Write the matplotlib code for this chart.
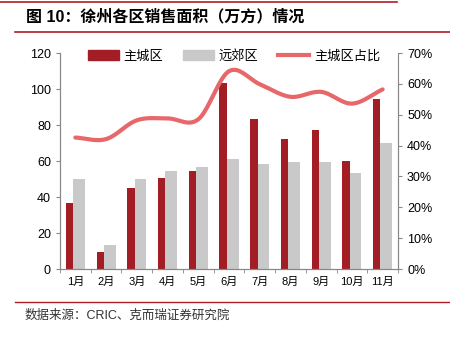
import numpy as np
import matplotlib
matplotlib.use('Agg')
import matplotlib.pyplot as plt
from matplotlib.lines import Line2D
from matplotlib.patches import Patch
from matplotlib.ticker import PercentFormatter

plt.rcParams['font.family'] = ['Liberation Sans', 'Noto Sans CJK SC', 'DejaVu Sans']

# 数据
meses = ['1月', '2月', '3月', '4月', '5月', '6月', '7月', '8月', '9月', '10月', '11月']
zhucheng = [36.6, 9.2, 44.9, 50.4, 54.3, 103.4, 83.1, 72.4, 77.5, 59.8, 94.7]
yuanjiao = [50.2, 13.3, 50.2, 54.3, 56.5, 61.1, 58.2, 59.3, 59.3, 53.5, 69.8]
zhanbi = [42.6, 42.1, 48.2, 48.8, 48.5, 64.1, 59.9, 55.8, 57.4, 53.6, 58.2]

ROJO = '#A31D24'
GRIS = '#C9C9C9'
ROSA = '#E8676A'


def suavizar(x, y, n=20):
    """Curva Catmull-Rom que pasa por los puntos (solo para dibujar la linea)"""
    x = np.asarray(x, float)
    y = np.asarray(y, float)
    px = np.concatenate([[2 * x[0] - x[1]], x, [2 * x[-1] - x[-2]]])
    py = np.concatenate([[2 * y[0] - y[1]], y, [2 * y[-1] - y[-2]]])
    xs, ys = [], []
    for i in range(1, len(px) - 2):
        t = np.linspace(0, 1, n, endpoint=False)
        for p, out in ((px, xs), (py, ys)):
            p0, p1, p2, p3 = p[i - 1], p[i], p[i + 1], p[i + 2]
            out.extend(0.5 * (2 * p1 + (-p0 + p2) * t + (2 * p0 - 5 * p1 + 4 * p2 - p3) * t ** 2
                              + (-p0 + 3 * p1 - 3 * p2 + p3) * t ** 3))
    xs.append(x[-1])
    ys.append(y[-1])
    return np.array(xs), np.array(ys)


fig = plt.figure(figsize=(4.5, 3.45), dpi=100)
ax = fig.add_axes([60 / 450, 1 - 269 / 345, 338 / 450, 216 / 345])
ax2 = ax.twinx()

x = np.arange(len(meses))
ax.bar(x - 0.19, zhucheng, width=0.24, color=ROJO, zorder=2)
ax.bar(x + 0.12, yuanjiao, width=0.38, color=GRIS, zorder=2)

xs, ys = suavizar(x, zhanbi)
ax2.plot(xs, ys, color=ROSA, lw=3, solid_capstyle='round')

ax.set_xlim(-0.5, len(meses) - 0.5)
ax.set_ylim(0, 120)
ax.set_yticks(range(0, 121, 20))
ax2.set_ylim(0, 70)
ax2.set_yticks(range(0, 71, 10))
ax2.yaxis.set_major_formatter(PercentFormatter(decimals=0))

ax.set_xticks(x)
ax.set_xticklabels(meses, fontsize=8)
ax.set_xticks(np.arange(-0.5, len(meses), 1), minor=True)
ax.tick_params(axis='x', which='major', length=0, pad=6)
ax.tick_params(axis='x', which='minor', length=3, color='#888888', direction='out')
ax.tick_params(axis='y', labelsize=9, length=3, color='#888888')
ax2.tick_params(axis='y', labelsize=9, length=3, color='#888888')

for a in (ax, ax2):
    a.spines['top'].set_visible(False)
    for s in ('left', 'right', 'bottom'):
        a.spines[s].set_color('#888888')
        a.spines[s].set_linewidth(0.8)
ax2.spines['right'].set_bounds(0, 61)

handles = [Patch(color=ROJO), Patch(color=GRIS), Line2D([], [], color=ROSA, lw=3)]
ax.legend(handles, ['主城区', '远郊区', '主城区占比'], loc='upper center', ncol=3,
          bbox_to_anchor=(0.515, 1.07), frameon=False,
          handlelength=2.35, handleheight=0.8, columnspacing=1.5, handletextpad=0.35,
          prop={'family': ['Noto Sans CJK SC'], 'size': 9.5})

# titulo y lineas decorativas
fig.add_artist(Line2D([0, 397 / 450], [1 - 1.5 / 345] * 2, color='#B01E25', lw=1.2))
fig.add_artist(Line2D([15 / 450, 1], [1 - 32 / 345] * 2, color='#B01E25', lw=1.2))
fig.add_artist(Line2D([15 / 450, 1], [1 - 302 / 345] * 2, color='#B01E25', lw=1.0))
fig.text(26 / 450, 1 - 17 / 345, '图 10：徐州各区销售面积（万方）情况', fontsize=11.5,
         fontweight='bold', va='center', ha='left')
fig.text(25 / 450, 1 - 316 / 345, '数据来源：CRIC、克而瑞证券研究院', fontsize=9,
         va='center', ha='left', color='#333333')

fig.savefig('out.png', dpi=100)
